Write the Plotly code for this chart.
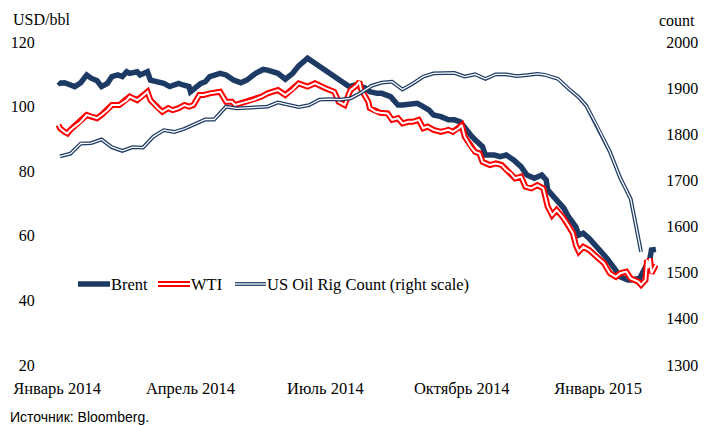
import plotly.graph_objects as go

# ---------------- data ----------------
brent_dates = [
    "2014-01-02", "2014-01-03", "2014-01-06", "2014-01-10", "2014-01-13", "2014-01-17", "2014-01-21",
    "2014-01-24", "2014-01-28", "2014-01-31", "2014-02-04", "2014-02-07", "2014-02-11", "2014-02-14",
    "2014-02-17", "2014-02-19", "2014-02-24", "2014-02-26", "2014-03-03", "2014-03-05", "2014-03-10",
    "2014-03-14", "2014-03-18", "2014-03-24", "2014-03-27", "2014-03-31", "2014-04-01", "2014-04-04",
    "2014-04-08", "2014-04-11", "2014-04-14", "2014-04-21", "2014-04-25", "2014-04-30", "2014-05-05",
    "2014-05-09", "2014-05-15", "2014-05-20", "2014-05-23", "2014-05-30", "2014-06-04", "2014-06-09",
    "2014-06-13", "2014-06-19", "2014-06-24", "2014-06-27", "2014-07-03", "2014-07-09", "2014-07-14",
    "2014-07-17", "2014-07-21", "2014-07-24", "2014-07-28", "2014-07-31", "2014-08-05", "2014-08-08",
    "2014-08-14", "2014-08-19", "2014-08-22", "2014-08-28", "2014-09-01", "2014-09-05", "2014-09-09",
    "2014-09-12", "2014-09-17", "2014-09-22", "2014-09-26", "2014-09-30", "2014-10-03", "2014-10-07",
    "2014-10-10", "2014-10-15", "2014-10-17", "2014-10-23", "2014-10-27", "2014-10-31", "2014-11-05",
    "2014-11-10", "2014-11-14", "2014-11-19", "2014-11-24", "2014-11-27", "2014-11-28", "2014-12-02",
    "2014-12-05", "2014-12-09", "2014-12-12", "2014-12-17", "2014-12-19", "2014-12-22", "2014-12-26",
    "2014-12-29", "2015-01-02", "2015-01-07", "2015-01-12", "2015-01-14", "2015-01-16", "2015-01-21",
    "2015-01-23", "2015-01-29", "2015-02-02", "2015-02-05", "2015-02-06", "2015-02-09",
]
brent_values = [
    107.7, 107.2, 107.4, 106.7, 106.2, 107.4, 109.8,
    108.8, 108.0, 106.2, 107.2, 109.3, 109.8, 109.3,
    110.8, 110.3, 110.8, 109.8, 110.8, 108.2, 107.7,
    107.2, 106.2, 107.2, 106.7, 106.2, 104.6, 105.7,
    107.2, 107.7, 109.3, 110.3, 109.8, 108.2, 107.4,
    108.2, 110.3, 111.5, 111.3, 110.3, 108.5, 110.3,
    112.6, 115.0, 113.4, 112.4, 110.3, 108.8, 106.7,
    106.2, 106.7, 106.5, 105.7, 104.6, 104.1, 104.1,
    103.1, 100.5, 100.5, 101.0, 101.0, 100.0, 98.9,
    97.4, 96.9, 95.9, 95.9, 95.3, 93.3, 91.2,
    89.7, 87.6, 85.0, 85.0, 84.5, 85.0, 83.5,
    81.4, 78.8, 77.8, 78.8, 77.3, 74.2, 72.1,
    70.6, 68.5, 65.9, 62.8, 60.2, 60.8, 59.2,
    57.7, 55.6, 53.0, 49.9, 48.4, 47.3, 46.3,
    46.3, 46.8, 50.4, 53.0, 55.6, 55.8,
]

wti_dates = [
    "2014-01-02", "2014-01-03", "2014-01-06", "2014-01-08", "2014-01-10", "2014-01-14", "2014-01-17",
    "2014-01-21", "2014-01-24", "2014-01-28", "2014-01-31", "2014-02-04", "2014-02-07", "2014-02-12",
    "2014-02-17", "2014-02-19", "2014-02-24", "2014-02-26", "2014-03-03", "2014-03-05", "2014-03-10",
    "2014-03-13", "2014-03-17", "2014-03-20", "2014-03-24", "2014-03-28", "2014-03-31", "2014-04-03",
    "2014-04-07", "2014-04-10", "2014-04-14", "2014-04-21", "2014-04-25", "2014-04-29", "2014-05-01",
    "2014-05-05", "2014-05-09", "2014-05-13", "2014-05-19", "2014-05-23", "2014-05-30", "2014-06-04",
    "2014-06-09", "2014-06-13", "2014-06-19", "2014-06-24", "2014-07-01", "2014-07-07", "2014-07-10",
    "2014-07-14", "2014-07-17", "2014-07-18", "2014-07-22", "2014-07-24", "2014-07-25", "2014-07-28",
    "2014-07-30", "2014-07-31", "2014-08-04", "2014-08-07", "2014-08-12", "2014-08-15", "2014-08-19",
    "2014-08-22", "2014-08-26", "2014-08-29", "2014-09-02", "2014-09-05", "2014-09-08", "2014-09-12",
    "2014-09-17", "2014-09-22", "2014-09-25", "2014-09-29", "2014-10-01", "2014-10-03", "2014-10-07",
    "2014-10-10", "2014-10-13", "2014-10-15", "2014-10-20", "2014-10-24", "2014-10-28", "2014-10-31",
    "2014-11-03", "2014-11-06", "2014-11-10", "2014-11-13", "2014-11-17", "2014-11-21", "2014-11-25",
    "2014-11-28", "2014-12-01", "2014-12-04", "2014-12-08", "2014-12-11", "2014-12-15", "2014-12-17",
    "2014-12-19", "2014-12-22", "2014-12-26", "2014-12-31", "2015-01-05", "2015-01-07", "2015-01-09",
    "2015-01-13", "2015-01-16", "2015-01-20", "2015-01-23", "2015-01-28", "2015-01-30", "2015-02-02",
    "2015-02-03", "2015-02-04", "2015-02-05", "2015-02-06", "2015-02-09",
]
wti_values = [
    94.3, 93.3, 92.2, 91.7, 92.8, 94.3, 95.3,
    97.4, 96.9, 96.4, 97.4, 98.9, 100.5, 100.5,
    102.0, 103.1, 102.0, 102.6, 104.6, 102.0, 99.5,
    98.4, 99.5, 98.9, 99.5, 100.5, 100.0, 100.5,
    103.6, 103.6, 104.1, 104.6, 101.5, 101.5, 100.5,
    101.0, 101.5, 102.0, 103.1, 104.1, 105.1, 103.6,
    105.3, 107.2, 106.2, 107.2, 105.7, 104.6, 101.5,
    100.5, 104.1, 105.1, 106.5, 107.7, 105.5, 103.0,
    101.5, 99.5, 98.4, 98.1, 97.9, 95.9, 96.4,
    94.8, 95.3, 95.3, 95.9, 93.3, 93.8, 92.8,
    92.2, 92.8, 92.2, 93.3, 94.3, 90.7, 87.6,
    86.0, 85.5, 82.9, 81.9, 82.4, 81.9, 80.4,
    79.4, 77.8, 78.3, 75.2, 74.7, 75.7, 74.7,
    69.0, 66.4, 68.0, 65.9, 63.9, 60.8, 57.1,
    55.1, 56.6, 55.6, 53.5, 51.5, 49.9, 48.4,
    47.3, 48.4, 48.9, 46.8, 45.8, 44.8, 46.3,
    52.5, 50.0, 53.0, 48.4, 51.0,
]

rig_dates = [
    "2014-01-03", "2014-01-10", "2014-01-17", "2014-01-24", "2014-01-31", "2014-02-07", "2014-02-14",
    "2014-02-21", "2014-02-28", "2014-03-07", "2014-03-14", "2014-03-21", "2014-03-28", "2014-04-04",
    "2014-04-11", "2014-04-17", "2014-04-25", "2014-05-02", "2014-05-09", "2014-05-16", "2014-05-23",
    "2014-05-30", "2014-06-06", "2014-06-13", "2014-06-20", "2014-06-27", "2014-07-03", "2014-07-11",
    "2014-07-18", "2014-07-25", "2014-08-01", "2014-08-08", "2014-08-15", "2014-08-22", "2014-08-29",
    "2014-09-05", "2014-09-12", "2014-09-19", "2014-09-26", "2014-10-03", "2014-10-10", "2014-10-17",
    "2014-10-24", "2014-10-31", "2014-11-07", "2014-11-14", "2014-11-21", "2014-11-26", "2014-12-05",
    "2014-12-12", "2014-12-19", "2014-12-24", "2014-12-31", "2015-01-09", "2015-01-16", "2015-01-23",
    "2015-01-30",
]
rig_values = [
    1752, 1758, 1780, 1781, 1789, 1772, 1764,
    1772, 1771, 1795, 1809, 1805, 1812, 1822,
    1832, 1832, 1860, 1856, 1857, 1858, 1860,
    1869, 1864, 1859, 1863, 1875, 1876, 1875,
    1878, 1890, 1905, 1912, 1914, 1897, 1910,
    1925, 1932, 1933, 1933, 1925, 1930, 1920,
    1930, 1930, 1926, 1928, 1931, 1929, 1920,
    1899, 1880, 1862, 1820, 1762, 1705, 1660,
    1545,
]

x_tick_dates = ["2014-01-01", "2014-04-01", "2014-07-01", "2014-10-01", "2015-01-01"]
x_tick_labels = ["Январь 2014", "Апрель 2014", "Июль 2014", "Октябрь 2014", "Январь 2015"]
left_ticks = [20, 40, 60, 80, 100, 120]
right_ticks = [1300, 1400, 1500, 1600, 1700, 1800, 1900, 2000]

series_names = ["Brent", "WTI", "US Oil Rig Count (right scale)"]

# ---------------- style ----------------
NAVY = "#1c3a64"
RED = "#ff0000"
SERIF = "Liberation Serif, Times New Roman, serif"
SANS = "Liberation Sans, Arial, sans-serif"

# page body has an 8px margin: the figure is placed at (8, 8) in the window
OFF = 8
WIN_W, WIN_H = 706, 425
W, H = WIN_W - OFF, WIN_H - OFF
PLOT_L, PLOT_R, PLOT_T, PLOT_B = 52, 658, 42, 365   # window pixel coordinates
L, R, T, B = PLOT_L - OFF, WIN_W - PLOT_R, PLOT_T - OFF, WIN_H - PLOT_B
PW, PH = PLOT_R - PLOT_L, PLOT_B - PLOT_T


def px(x):
    return (x - PLOT_L) / PW


def py(y):
    return (PLOT_B - y) / PH


fig = go.Figure()

fig.add_trace(go.Scatter(x=brent_dates, y=brent_values, mode="lines",
                         line=dict(color=NAVY, width=5.5), name=series_names[0],
                         showlegend=False))
fig.add_trace(go.Scatter(x=wti_dates, y=wti_values, mode="lines",
                         line=dict(color=RED, width=6), name=series_names[1],
                         showlegend=False))
fig.add_trace(go.Scatter(x=wti_dates, y=wti_values, mode="lines",
                         line=dict(color="white", width=2), hoverinfo="skip",
                         showlegend=False))
fig.add_trace(go.Scatter(x=rig_dates, y=rig_values, mode="lines", yaxis="y2",
                         line=dict(color=NAVY, width=3.8), name=series_names[2],
                         showlegend=False))
fig.add_trace(go.Scatter(x=rig_dates, y=rig_values, mode="lines", yaxis="y2",
                         line=dict(color="white", width=1.3), hoverinfo="skip",
                         showlegend=False))

# ---------------- manual legend (double-line symbols) ----------------
shapes = []
annotations = []
leg_y = 284
leg_items = [
    (78, 110, [(NAVY, 5.5)], series_names[0]),
    (158, 190, [(RED, 6), ("white", 2)], series_names[1]),
    (235, 266, [(NAVY, 3.8), ("white", 1.3)], series_names[2]),
]
for x0, x1, layers, label in leg_items:
    for col, wd in layers:
        shapes.append(dict(type="line", xref="paper", yref="paper",
                           x0=px(x0), x1=px(x1), y0=py(leg_y), y1=py(leg_y),
                           line=dict(color=col, width=wd)))
    annotations.append(dict(xref="paper", yref="paper", x=px(x1), y=py(leg_y),
                            xanchor="left", yanchor="middle", text=label, showarrow=False,
                            font=dict(family=SERIF, size=16.5, color="black"), borderpad=0))

annotations.append(dict(xref="paper", yref="paper", x=px(11), y=py(19), xanchor="left",
                        yanchor="middle", text="USD/bbl", showarrow=False,
                        font=dict(family=SERIF, size=16, color="black")))
annotations.append(dict(xref="paper", yref="paper", x=px(697), y=py(20), xanchor="right",
                        yanchor="middle", text="count", showarrow=False,
                        font=dict(family=SERIF, size=16, color="black")))
annotations.append(dict(xref="paper", yref="paper", x=px(8), y=py(417), xanchor="left",
                        yanchor="middle", text="Источник: Bloomberg.", showarrow=False,
                        font=dict(family=SANS, size=14, color="black")))

fig.update_layout(
    width=W, height=H,
    margin=dict(l=L, r=R, t=T, b=B, autoexpand=False),
    paper_bgcolor="white", plot_bgcolor="white",
    showlegend=False,
    font=dict(family=SERIF, size=16, color="black"),
    xaxis=dict(type="date", range=["2013-12-28 14:00", "2015-02-10 10:00"],
               tickvals=x_tick_dates, ticktext=x_tick_labels, automargin=False,
               showgrid=False, zeroline=False, showline=False,
               ticks="outside", ticklen=8, tickcolor="rgba(0,0,0,0)",
               tickfont=dict(family=SERIF, size=16.5, color="black")),
    yaxis=dict(range=[20, 120], tickvals=left_ticks, showgrid=False, zeroline=False,
               automargin=False,
               showline=False, ticks="outside", ticklen=13, tickcolor="rgba(0,0,0,0)",
               tickfont=dict(family=SERIF, size=16, color="black")),
    yaxis2=dict(range=[1300, 2000], tickvals=right_ticks, overlaying="y", side="right",
                automargin=False,
                showgrid=False, zeroline=False, showline=False, ticks="outside",
                ticklen=4, tickcolor="rgba(0,0,0,0)",
                tickfont=dict(family=SERIF, size=16, color="black")),
    shapes=shapes,
    annotations=annotations,
)

fig.write_html("out.html")
